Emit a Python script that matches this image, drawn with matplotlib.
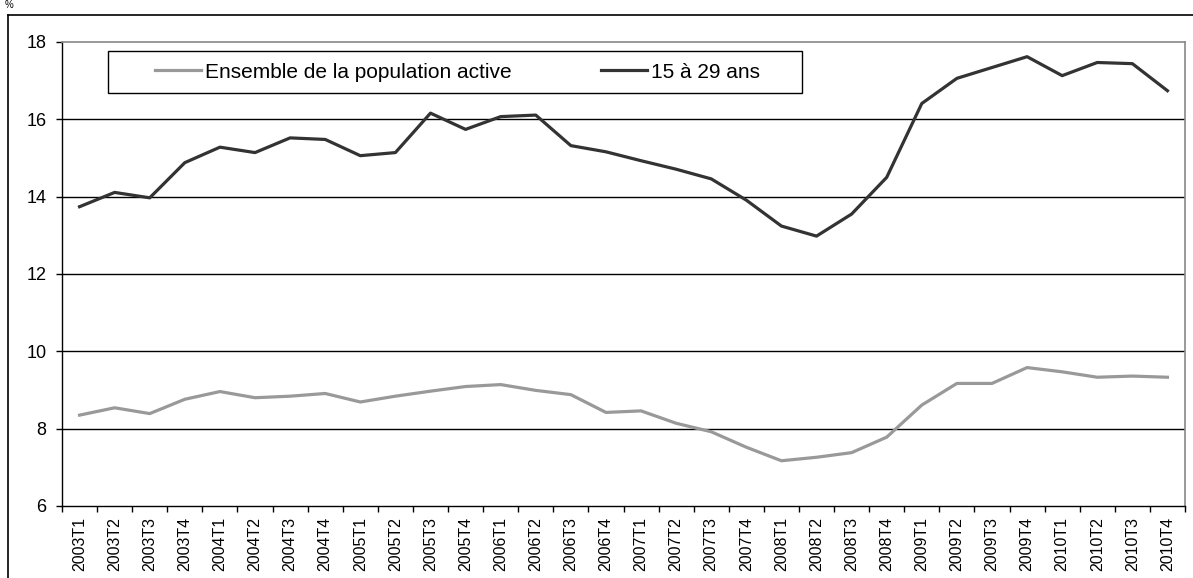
import numpy as np
import matplotlib.pyplot as plt
from matplotlib.lines import Line2D
from matplotlib.patches import Rectangle

plt.rcParams['font.family'] = ['Liberation Sans', 'DejaVu Sans']

quarters = ['2003T1', '2003T2', '2003T3', '2003T4',
            '2004T1', '2004T2', '2004T3', '2004T4',
            '2005T1', '2005T2', '2005T3', '2005T4',
            '2006T1', '2006T2', '2006T3', '2006T4',
            '2007T1', '2007T2', '2007T3', '2007T4',
            '2008T1', '2008T2', '2008T3', '2008T4',
            '2009T1', '2009T2', '2009T3', '2009T4',
            '2010T1', '2010T2', '2010T3', '2010T4']

ensemble = [8.35, 8.54, 8.39, 8.76, 8.96, 8.80, 8.84, 8.91,
            8.69, 8.84, 8.97, 9.09, 9.14, 8.99, 8.88, 8.42,
            8.46, 8.14, 7.92, 7.52, 7.17, 7.26, 7.38, 7.78,
            8.61, 9.17, 9.17, 9.58, 9.47, 9.33, 9.36, 9.33]

jeunes = [13.74, 14.11, 13.97, 14.88, 15.28, 15.14, 15.52, 15.48,
          15.06, 15.14, 16.16, 15.74, 16.07, 16.11, 15.32, 15.16,
          14.93, 14.71, 14.46, 13.91, 13.24, 12.98, 13.55, 14.50,
          16.41, 17.06, 17.34, 17.62, 17.13, 17.47, 17.44, 16.74]

labels = ['Ensemble de la population active', '15 à 29 ans']
yticks = [6, 8, 10, 12, 14, 16, 18]


def main():
    fig = plt.figure(figsize=(11.93, 5.78), dpi=100)
    ax = fig.add_axes([62 / 1193, 1 - 506 / 578, 1123 / 1193, 464 / 578])

    x = np.arange(len(quarters))
    ax.plot(x, ensemble, color='#999999', lw=2.3, label=labels[0], zorder=3)
    ax.plot(x, jeunes, color='#333333', lw=2.3, label=labels[1], zorder=3)

    ax.set_xlim(-0.5, len(quarters) - 0.5)
    ax.set_ylim(6, 18)

    # gridlines, the top one is hidden by the grey frame
    for v in yticks[1:-1]:
        ax.axhline(v, color='black', lw=1, zorder=1)

    ax.set_yticks(yticks)
    ax.tick_params(axis='y', length=4, width=1, pad=7, labelsize=13)

    ax.set_xticks(np.arange(-0.5, len(quarters)), labels=[])
    ax.set_xticks(x, labels=quarters, minor=True, rotation=90)
    ax.tick_params(axis='x', which='major', length=4, width=1)
    ax.tick_params(axis='x', which='minor', length=0, pad=8, labelsize=11.5)

    for s in ['left', 'bottom']:
        ax.spines[s].set_color('black')
        ax.spines[s].set_linewidth(1)
    for s in ['top', 'right']:
        ax.spines[s].set_color('#888888')
        ax.spines[s].set_linewidth(1.2)

    # legend frame
    ax.add_patch(Rectangle((0.041, 0.890), 0.618, 0.0906, transform=ax.transAxes,
                           facecolor='white', edgecolor='black', lw=1, zorder=4))
    ax.legend(loc='center', bbox_to_anchor=(0.0828, 0.890, 0.5388, 0.0906),
              mode='expand', ncol=2, frameon=False, borderaxespad=0, borderpad=0,
              handlelength=2.2, handletextpad=0.2, fontsize=15).set_zorder(5)

    # outer frame
    fig.add_artist(Line2D([8 / 1193, 1], [1 - 15 / 578] * 2, color='black', lw=1.2))
    fig.add_artist(Line2D([8 / 1193] * 2, [0, 1 - 15 / 578], color='black', lw=1.2))
    fig.text(0.004, 1.0, '%', fontsize=7, va='top')

    fig.savefig('out.png', dpi=100)


if __name__ == "__main__":
    main()
